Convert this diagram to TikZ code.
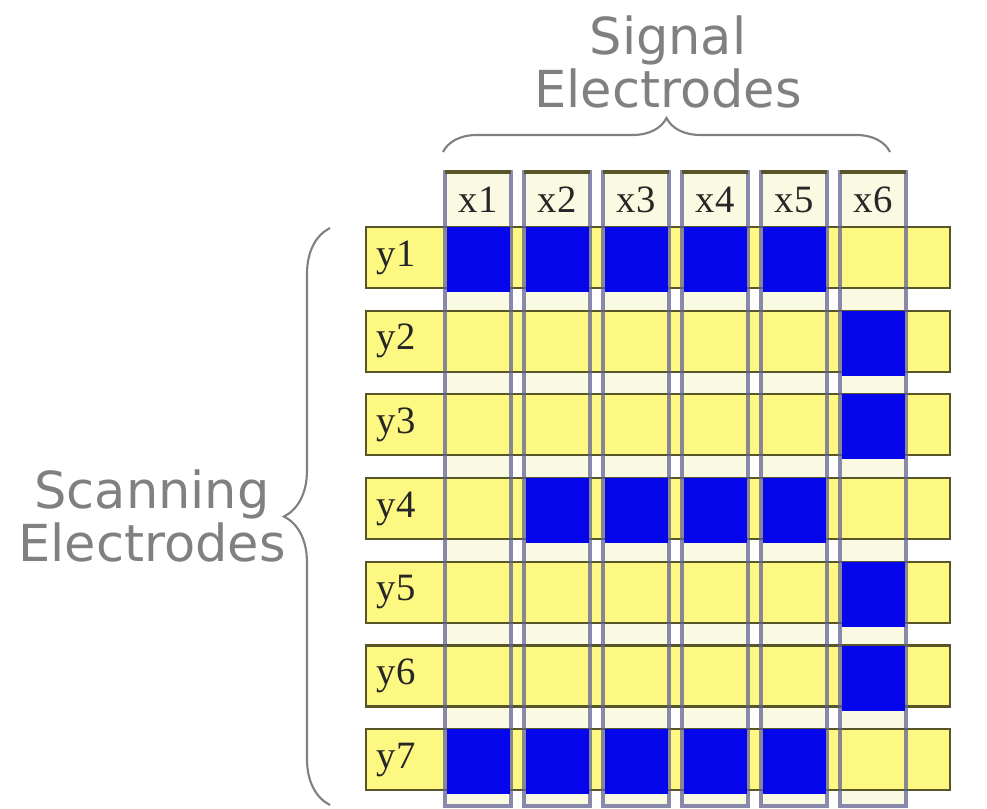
\documentclass[tikz,border=0pt]{standalone}
\usepackage{fontspec}
\setmainfont{Liberation Serif}
\newfontfamily\labelfont{DejaVu Sans}
\usetikzlibrary{decorations.pathreplacing}

\definecolor{rowyellow}{RGB}{252,248,130}
\definecolor{rowedge}{RGB}{88,86,40}
\definecolor{coledge}{RGB}{98,98,150}
\definecolor{colfill}{RGB}{250,250,226}
\definecolor{pixblue}{RGB}{6,6,236}
\definecolor{bracegray}{RGB}{128,128,128}

\begin{document}
\begin{tikzpicture}[x=0.01cm, y=-0.01cm]

    % let's define some key values
    \def\xa{445}    % left of first column
    \def\colw{66}
    \def\colp{79}
    \def\ya{227}    % top of first row
    \def\rowh{61}
    \def\rowp{83.7}

    \useasboundingbox (0,0) rectangle (987,809);

    % Styles
    \tikzset{
      colbody/.style={fill=colfill},
      colline/.style={draw=coledge, line width=1.1pt, draw opacity=0.75},
      rowbar/.style={fill=rowyellow, draw=rowedge, line width=0.6pt},
      pixon/.style={fill=pixblue},
      lbl/.style={font=\fontsize{11}{11}\selectfont, text=black!85, inner sep=0pt},
      elbrace/.style={decorate, decoration={brace, amplitude=#1}, draw=bracegray, line width=0.6pt},
      caption/.style={font=\labelfont\fontsize{14.5}{13.5}\selectfont, text=bracegray, align=center}
    }

    % signal electrodes (columns)
    \foreach \i in {1,...,6} {
      \pgfmathsetmacro\xl{\xa+(\i-1)*\colp}
      \fill[colbody] (\xl,172) rectangle (\xl+\colw,806);
    }

    % scanning electrodes (rows)
    \foreach \j in {1,...,7} {
      \pgfmathsetmacro\yt{\ya+(\j-1)*\rowp}
      \draw[rowbar] (366,\yt) rectangle (950,\yt+\rowh);
      \node[lbl] (y\j) at (396,\yt+\rowh/2) {y\j};
    }

    % column edges over the rows
    \foreach \i in {1,...,6} {
      \pgfmathsetmacro\xl{\xa+(\i-1)*\colp}
      \draw[colline] (\xl,172) rectangle (\xl+\colw,806);
      \draw[rowedge, line width=0.9pt] (\xl,172) -- (\xl+\colw,172);
      \node[lbl] (x\i) at (\xl+\colw/2,200) {x\i};
    }

    % pixels switched on
    \foreach \i/\j in {1/1,2/1,3/1,4/1,5/1,6/2,6/3,2/4,3/4,4/4,5/4,6/5,6/6,1/7,2/7,3/7,4/7,5/7} {
      \pgfmathsetmacro\xl{\xa+(\i-1)*\colp}
      \pgfmathsetmacro\yt{\ya+(\j-1)*\rowp}
      \fill[pixon] (\xl+2,\yt) rectangle (\xl+\colw-1,\yt+\rowh+4);
    }

    % braces
    \coordinate (sigl) at (443,152);
    \coordinate (sigr) at (890,152);
    \draw[elbrace=0.34cm] (sigl) -- (sigr);
    \node[caption] (signal) at (668,62) {Signal\\Electrodes};

    \coordinate (scanb) at (330,805);
    \coordinate (scant) at (330,228);
    \draw[elbrace=0.46cm] (scanb) -- (scant);
    \node[caption] (scanning) at (152,516) {Scanning\\Electrodes};

\end{tikzpicture}
\end{document}
